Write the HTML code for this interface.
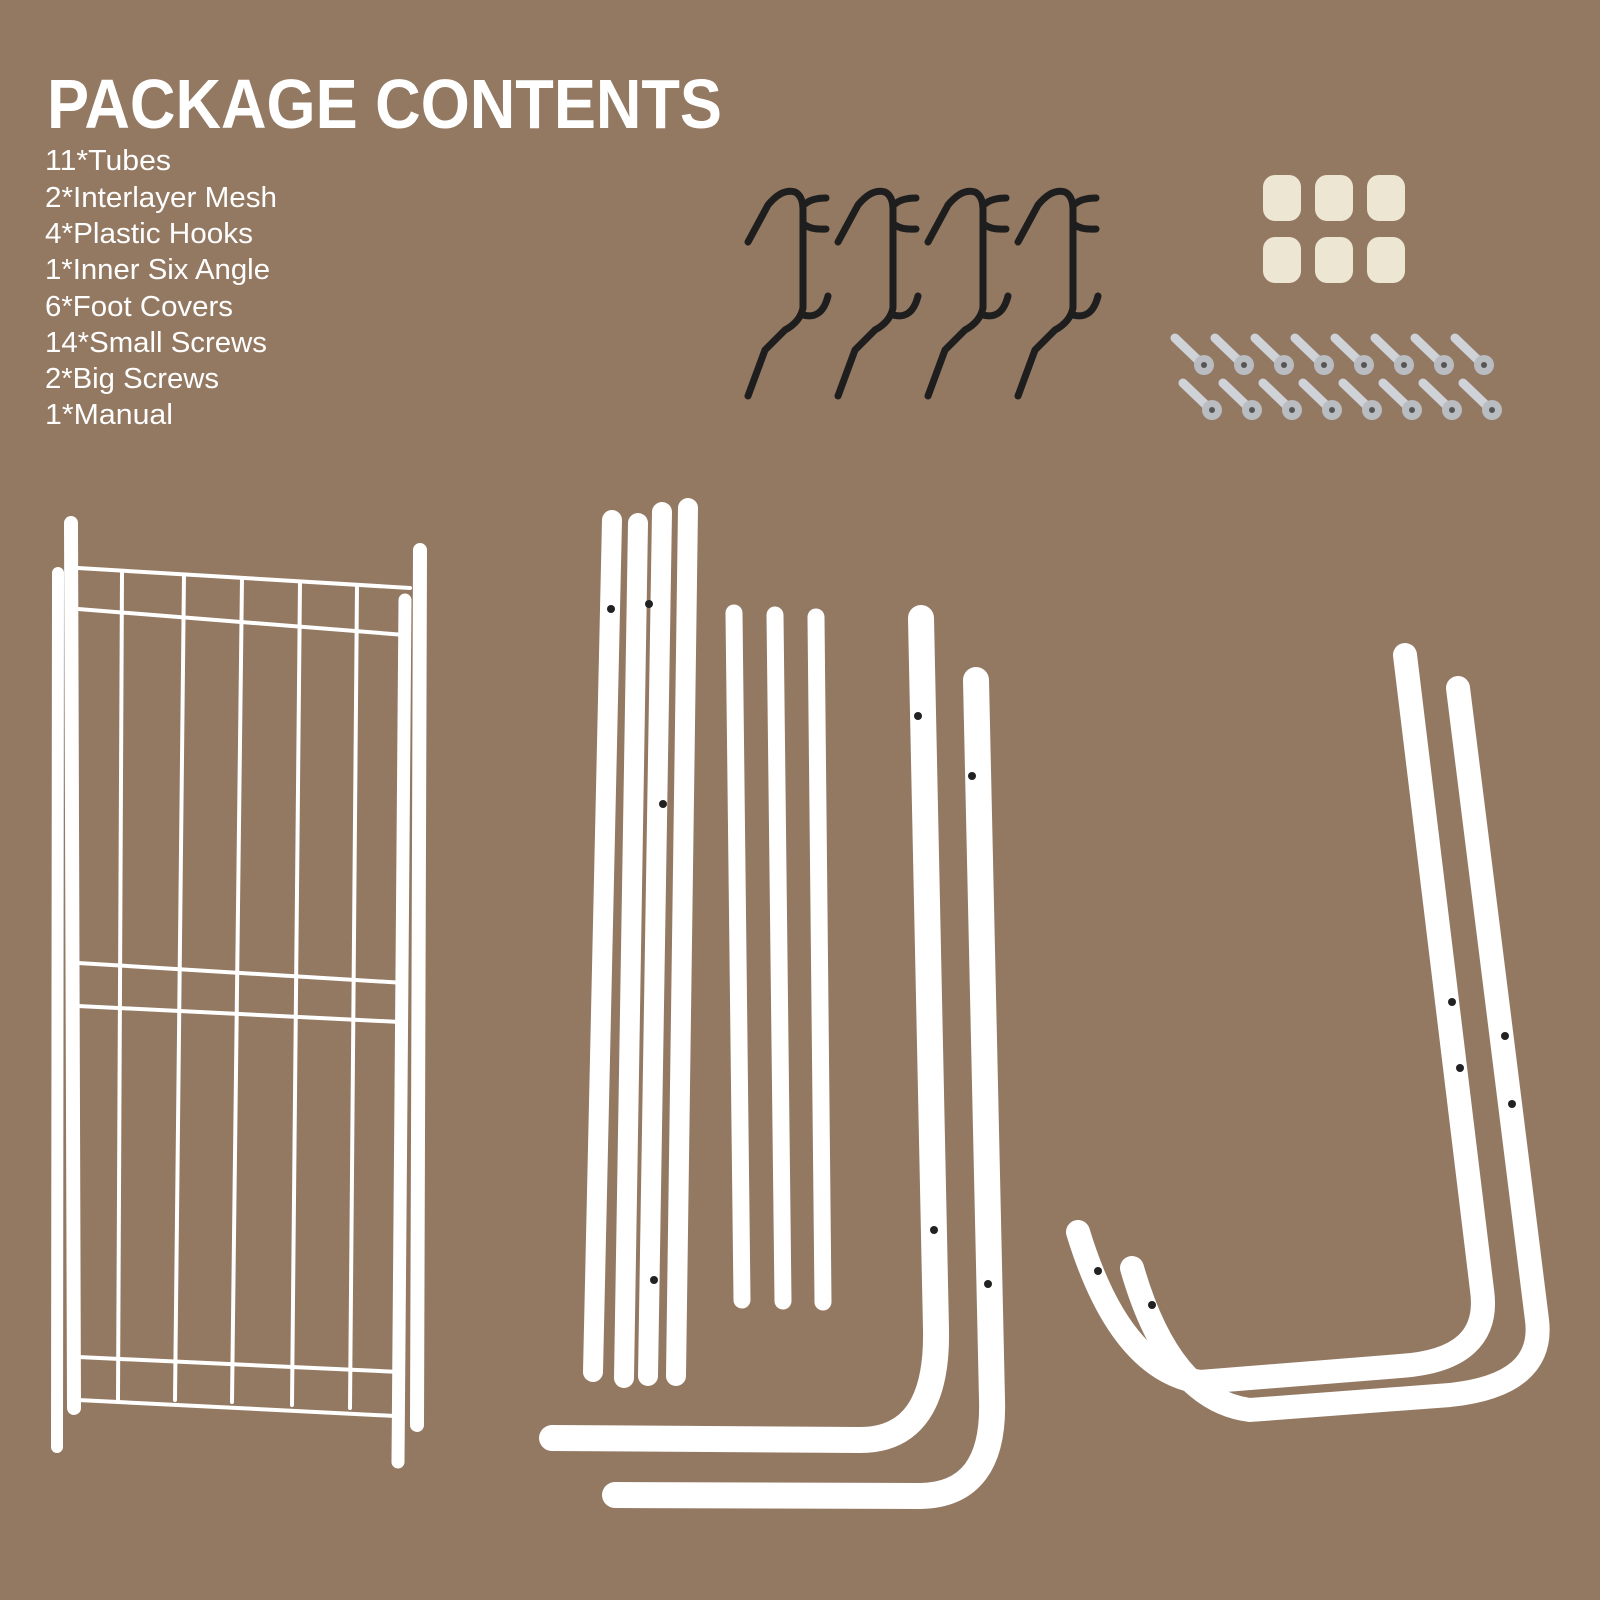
<!DOCTYPE html>
<html><head><style>html,body{margin:0;padding:0;background:#937862}svg{display:block}</style></head>
<body>
<svg width="1600" height="1600" viewBox="0 0 1600 1600" xmlns="http://www.w3.org/2000/svg">
<rect width="1600" height="1600" fill="#937862"/>
<g font-family="Liberation Sans, sans-serif" fill="#fff">
<text x="47" y="128" font-size="70" font-weight="bold" textLength="675" lengthAdjust="spacingAndGlyphs">PACKAGE CONTENTS</text>
<g font-size="29">
<text x="45" y="170" textLength="126" lengthAdjust="spacingAndGlyphs">11*Tubes</text>
<text x="45" y="207" textLength="232" lengthAdjust="spacingAndGlyphs">2*Interlayer Mesh</text>
<text x="45" y="243" textLength="208" lengthAdjust="spacingAndGlyphs">4*Plastic Hooks</text>
<text x="45" y="279" textLength="225" lengthAdjust="spacingAndGlyphs">1*Inner Six Angle</text>
<text x="45" y="316" textLength="188" lengthAdjust="spacingAndGlyphs">6*Foot Covers</text>
<text x="45" y="352" textLength="222" lengthAdjust="spacingAndGlyphs">14*Small Screws</text>
<text x="45" y="388" textLength="174" lengthAdjust="spacingAndGlyphs">2*Big Screws</text>
<text x="45" y="424" textLength="128" lengthAdjust="spacingAndGlyphs">1*Manual</text>
</g></g>
<!-- hooks -->
<g fill="none" stroke="#1e1e1e" stroke-width="7" stroke-linecap="round" stroke-linejoin="round">
<g id="h"><path d="M748 242 L768 205 Q782 188 795 192 Q803 196 803 210 L803 308 Q800 322 785 330 L765 350 L748 396"/><path d="M805 204 Q812 198 826 198 M805 225 Q812 230 826 229 M803 315 Q822 320 828 296"/></g>
<use href="#h" x="90"/><use href="#h" x="180"/><use href="#h" x="270"/>
</g>
<!-- foot covers -->
<g fill="#ede6d3">
<rect x="1263" y="175" width="38" height="46" rx="12"/><rect x="1315" y="175" width="38" height="46" rx="12"/><rect x="1367" y="175" width="38" height="46" rx="12"/>
<rect x="1263" y="237" width="38" height="46" rx="12"/><rect x="1315" y="237" width="38" height="46" rx="12"/><rect x="1367" y="237" width="38" height="46" rx="12"/>
</g>
<!-- screws -->
<g stroke-linecap="round">
<g id="s"><line x1="1175" y1="338" x2="1200" y2="362" stroke="#cfd2d6" stroke-width="9"/><circle cx="1204" cy="365" r="10" fill="#b9bcc0"/><circle cx="1204" cy="365" r="3" fill="#555"/></g>
<use href="#s" x="40"/><use href="#s" x="80"/><use href="#s" x="120"/><use href="#s" x="160"/><use href="#s" x="200"/><use href="#s" x="240"/><use href="#s" x="280"/>
<use href="#s" x="8" y="45"/><use href="#s" x="48" y="45"/><use href="#s" x="88" y="45"/><use href="#s" x="128" y="45"/><use href="#s" x="168" y="45"/><use href="#s" x="208" y="45"/><use href="#s" x="248" y="45"/><use href="#s" x="288" y="45"/>
</g>
<!-- mesh panel -->
<g stroke="#fff" stroke-linecap="round" fill="none">
<line x1="71" y1="523" x2="74" y2="1408" stroke-width="14"/>
<line x1="58" y1="573" x2="57" y2="1447" stroke-width="12"/>
<line x1="420" y1="550" x2="417" y2="1425" stroke-width="14"/>
<line x1="405" y1="600" x2="398" y2="1462" stroke-width="13"/>
<g stroke-width="4">
<line x1="78" y1="568" x2="410" y2="588"/><line x1="78" y1="609" x2="405" y2="635"/>
<line x1="78" y1="963" x2="405" y2="983"/><line x1="78" y1="1006" x2="400" y2="1022"/>
<line x1="78" y1="1357" x2="400" y2="1372"/><line x1="78" y1="1400" x2="395" y2="1416"/>
<line x1="122" y1="572" x2="118" y2="1400"/><line x1="184" y1="575" x2="175" y2="1400"/>
<line x1="242" y1="578" x2="232" y2="1402"/><line x1="300" y1="582" x2="292" y2="1405"/>
<line x1="357" y1="585" x2="350" y2="1408"/>
</g>
</g>
<!-- straight tubes -->
<g stroke="#fff" stroke-linecap="round" fill="none">
<line x1="612" y1="520" x2="593" y2="1372" stroke-width="20"/>
<line x1="638" y1="523" x2="624" y2="1378" stroke-width="20"/>
<line x1="662" y1="512" x2="648" y2="1376" stroke-width="20"/>
<line x1="688" y1="508" x2="676" y2="1376" stroke-width="20"/>
<line x1="734" y1="613" x2="742" y2="1300" stroke-width="17"/>
<line x1="775" y1="615" x2="783" y2="1301" stroke-width="17"/>
<line x1="816" y1="617" x2="823" y2="1302" stroke-width="17"/>
<path d="M921 618 L936 1330 Q938 1440 860 1440 L552 1438" stroke-width="26"/>
<path d="M976 680 L992 1400 Q995 1495 920 1496 L615 1495" stroke-width="26"/>
<path d="M1405 655 L1482 1290 Q1492 1360 1400 1366 L1200 1382 Q1120 1370 1078 1232" stroke-width="24"/>
<path d="M1458 688 L1537 1320 Q1545 1385 1450 1395 L1250 1410 Q1170 1400 1132 1268" stroke-width="24"/>
</g>
<g fill="#222">
<circle cx="611" cy="609" r="4"/><circle cx="649" cy="604" r="4"/><circle cx="663" cy="804" r="4"/><circle cx="654" cy="1280" r="4"/>
<circle cx="918" cy="716" r="4"/><circle cx="934" cy="1230" r="4"/><circle cx="972" cy="776" r="4"/><circle cx="988" cy="1284" r="4"/>
<circle cx="1452" cy="1002" r="4"/><circle cx="1460" cy="1068" r="4"/><circle cx="1505" cy="1036" r="4"/><circle cx="1512" cy="1104" r="4"/>
<circle cx="1098" cy="1271" r="4"/><circle cx="1152" cy="1305" r="4"/>
</g>
</svg>
</body></html>
